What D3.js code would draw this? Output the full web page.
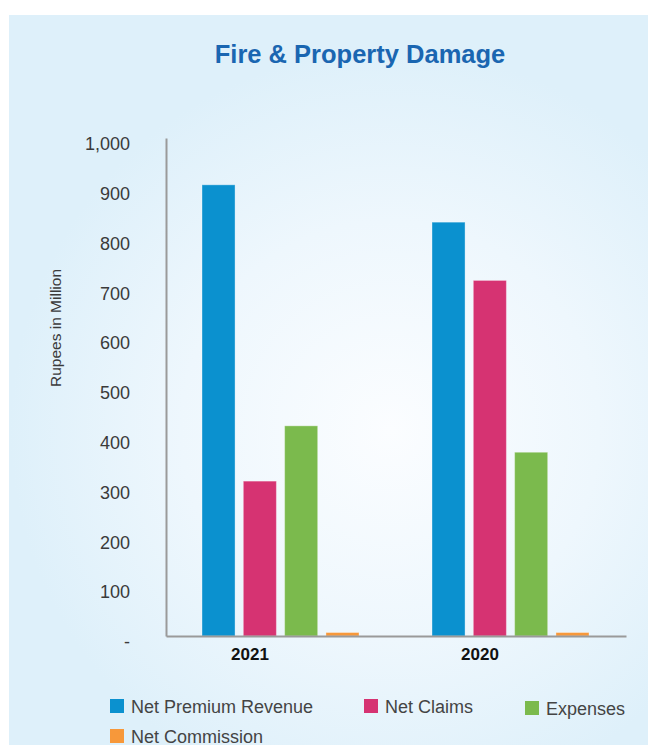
<!DOCTYPE html>
<html>
<head>
<meta charset="utf-8">
<script src="https://cdn.jsdelivr.net/npm/d3@7/dist/d3.min.js"></script>
<style>
  html, body { margin: 0; padding: 0; background: #ffffff; }
  svg { display: block; }
  text { font-family: "Liberation Sans", Arial, Helvetica, sans-serif; }
</style>
</head>
<body>
<svg id="chart" width="648" height="745"></svg>
<script>
// Chart data
const years = ["2021", "2020"];
const seriesNames = ["Net Premium Revenue", "Net Claims", "Expenses", "Net Commission"];
const netPremiumRevenue = [906, 831];
const netClaims = [311, 714];
const expenses = [422, 369];
const netCommission = [7, 7];
const yTicks = [0, 100, 200, 300, 400, 500, 600, 700, 800, 900, 1000];
const seriesColors = ["#0b91cf", "#d63372", "#7bba4d", "#f7983a"];

const seriesValues = [netPremiumRevenue, netClaims, expenses, netCommission];

const svg = d3.select("#chart");

// Panel background with a soft radial glow
const defs = svg.append("defs");
const grad = defs.append("radialGradient")
  .attr("id", "panelGlow")
  .attr("gradientUnits", "userSpaceOnUse")
  .attr("cx", 390).attr("cy", 430).attr("r", 380);
grad.append("stop").attr("offset", "0%").attr("stop-color", "#fbfdff");
grad.append("stop").attr("offset", "55%").attr("stop-color", "#eef7fd");
grad.append("stop").attr("offset", "100%").attr("stop-color", "#def0fa");

svg.append("rect")
  .attr("x", 9).attr("y", 15)
  .attr("width", 639).attr("height", 730)
  .attr("fill", "url(#panelGlow)");

// Title
svg.append("text")
  .attr("x", 360).attr("y", 63)
  .attr("text-anchor", "middle")
  .attr("fill", "#1a66b1")
  .attr("font-size", 25.5)
  .attr("font-weight", "bold")
  .text("Fire & Property Damage");

// Scales
const plotLeft = 166, plotRight = 626, plotTop = 138, plotBottom = 636;

const x0 = d3.scaleBand()
  .domain(years)
  .range([plotLeft, plotRight])
  .padding(0);

const x1 = d3.scaleBand()
  .domain(seriesNames)
  .range([36, 193])
  .paddingInner(0.2)
  .paddingOuter(0);

const y = d3.scaleLinear()
  .domain([0, 1000])
  .range([plotBottom, plotTop]);

// Bars
const groups = svg.append("g").selectAll("g")
  .data(years)
  .join("g")
  .attr("transform", d => `translate(${x0(d)},0)`);

groups.selectAll("rect")
  .data((yr, i) => seriesNames.map((name, s) => ({ name, s, value: seriesValues[s][i] })))
  .join("rect")
  .attr("x", d => x1(d.name))
  .attr("width", x1.bandwidth())
  .attr("y", d => y(d.value))
  .attr("height", d => y(0) - y(d.value))
  .attr("fill", d => seriesColors[d.s])
  .attr("stroke", "rgba(255,255,255,0.35)")
  .attr("stroke-width", 1);

// Y axis
const yAxis = d3.axisLeft(y)
  .tickValues(yTicks)
  .tickSize(0)
  .tickPadding(36)
  .tickFormat(v => v === 0 ? "-" : d3.format(",")(v));

const yg = svg.append("g")
  .attr("transform", `translate(${plotLeft},0)`)
  .call(yAxis);
yg.select(".domain").attr("stroke", "#9a9a9a").attr("stroke-width", 2);
yg.selectAll(".tick text")
  .attr("fill", "#3a3a3a")
  .attr("font-size", 18)
  .attr("dy", "0.32em")
  .attr("transform", "translate(0,6)");

// X axis
const xAxis = d3.axisBottom(x0).tickSize(0).tickPadding(12);
const xg = svg.append("g")
  .attr("transform", `translate(0,${plotBottom})`)
  .call(xAxis);
xg.select(".domain").attr("stroke", "#9a9a9a").attr("stroke-width", 2);
xg.selectAll(".tick text")
  .attr("fill", "#111")
  .attr("font-size", 17)
  .attr("font-weight", "bold")
  .attr("dx", -31);

// Y axis title
svg.append("text")
  .attr("transform", "translate(61,328) rotate(-90)")
  .attr("text-anchor", "middle")
  .attr("fill", "#3a3a3a")
  .attr("font-size", 15.5)
  .text("Rupees in Million");

// Legend
const legendPos = [
  { x: 110, y: 699 },
  { x: 364, y: 699 },
  { x: 525, y: 701 },
  { x: 110, y: 729 }
];
const legend = svg.append("g").selectAll("g")
  .data(seriesNames)
  .join("g")
  .attr("transform", (d, i) => `translate(${legendPos[i].x},${legendPos[i].y})`);
legend.append("rect")
  .attr("width", 14).attr("height", 14)
  .attr("fill", (d, i) => seriesColors[i]);
legend.append("text")
  .attr("x", 21).attr("y", 14)
  .attr("fill", "#444")
  .attr("font-size", 18)
  .text(d => d);
</script>
</body>
</html>
